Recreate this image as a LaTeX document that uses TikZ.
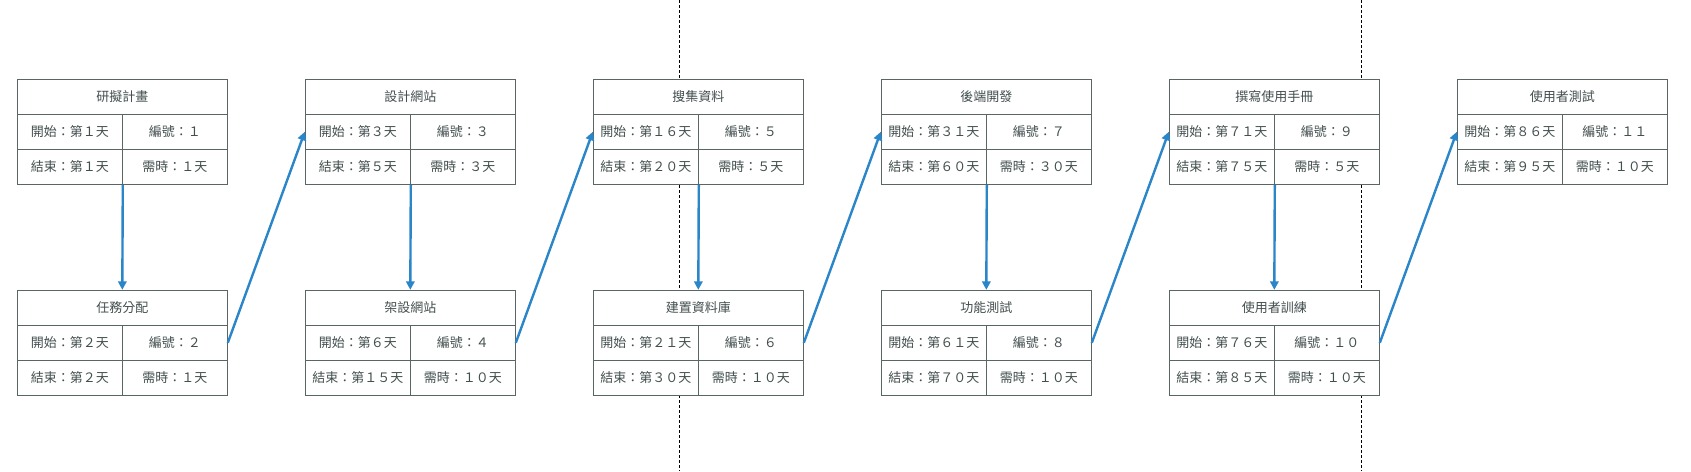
\documentclass[tikz,border=0pt]{standalone}
\usepackage{fontspec}
\setmainfont{Noto Sans CJK TC}
\usetikzlibrary{arrows.meta}
\definecolor{boxline}{HTML}{5A6565}
\definecolor{boxtext}{HTML}{434E4E}
\definecolor{arrblue}{HTML}{2A85C9}
\tikzset{
  cellbase/.style={draw=boxline, line width=1pt, fill=white, inner sep=0pt, text=boxtext,
    font=\fontsize{13}{15}\selectfont, minimum height=35pt},
  titlecell/.style={cellbase, minimum width=210pt},
  halfcell/.style={cellbase, minimum width=105pt},
  flowarrow/.style={draw=arrblue, line width=2.4pt, -{Triangle[width=8.5pt,length=8.5pt]}},
  sepline/.style={draw=black, line width=0.8pt, dash pattern=on 3pt off 2pt}
}
\newcommand{\pertbox}[8]{%
  \node[titlecell] (#1t) at ({#2+105},{#3+17.5}) {#4};
  \node[halfcell] (#1a) at ({#2+52.5},{#3+52.5}) {開始：第#5天};
  \node[halfcell] (#1b) at ({#2+157.5},{#3+52.5}) {編號：#6};
  \node[halfcell] (#1c) at ({#2+52.5},{#3+87.5}) {結束：第#7天};
  \node[halfcell] (#1d) at ({#2+157.5},{#3+87.5}) {需時：#8天};
}
\begin{document}
\begin{tikzpicture}[x=1pt,y=-1pt]
\useasboundingbox (0,0) rectangle (1691,471);
\fill[white] (0,0) rectangle (1691,471);
\coordinate (da) at (679.7,0);
\coordinate (db) at (679.7,471);
\coordinate (dc) at (1361.7,0);
\coordinate (dd) at (1361.7,471);
\draw[sepline] (da) -- (db);
\draw[sepline] (dc) -- (dd);
\pertbox{p1}{17.3}{79.3}{研擬計畫}{１}{１}{１}{１}
\pertbox{p2}{17.3}{290.3}{任務分配}{２}{２}{２}{１}
\pertbox{p3}{305.3}{79.3}{設計網站}{３}{３}{５}{３}
\pertbox{p4}{305.3}{290.3}{架設網站}{６}{４}{１５}{１０}
\pertbox{p5}{593.3}{79.3}{搜集資料}{１６}{５}{２０}{５}
\pertbox{p6}{593.3}{290.3}{建置資料庫}{２１}{６}{３０}{１０}
\pertbox{p7}{881.3}{79.3}{後端開發}{３１}{７}{６０}{３０}
\pertbox{p8}{881.3}{290.3}{功能測試}{６１}{８}{７０}{１０}
\pertbox{p9}{1169.3}{79.3}{撰寫使用手冊}{７１}{９}{７５}{５}
\pertbox{p10}{1169.3}{290.3}{使用者訓練}{７６}{１０}{８５}{１０}
\pertbox{p11}{1457.3}{79.3}{使用者測試}{８６}{１１}{９５}{１０}
\draw[flowarrow] (p1c.south east) -- (p2t.north);
\draw[flowarrow] (p2b.east) -- (p3a.west);
\draw[flowarrow] (p3c.south east) -- (p4t.north);
\draw[flowarrow] (p4b.east) -- (p5a.west);
\draw[flowarrow] (p5c.south east) -- (p6t.north);
\draw[flowarrow] (p6b.east) -- (p7a.west);
\draw[flowarrow] (p7c.south east) -- (p8t.north);
\draw[flowarrow] (p8b.east) -- (p9a.west);
\draw[flowarrow] (p9c.south east) -- (p10t.north);
\draw[flowarrow] (p10b.east) -- (p11a.west);
\end{tikzpicture}
\end{document}
